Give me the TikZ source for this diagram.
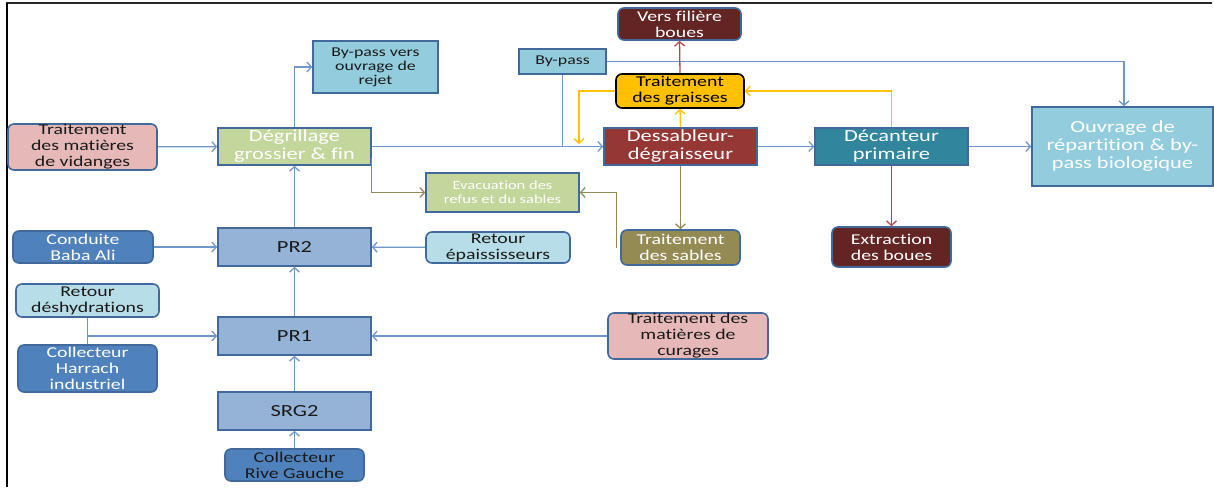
\documentclass[tikz,border=0pt]{standalone}
\usepackage{fontspec}
\setmainfont{Carlito}[FakeStretch=1.32, Ligatures={NoCommon}]
\usetikzlibrary{arrows.meta,calc}

\definecolor{cPink}{HTML}{E6B9B8}
\definecolor{cGreen}{HTML}{C3D69B}
\definecolor{cSky}{HTML}{93CDDD}
\definecolor{cWine}{HTML}{632523}
\definecolor{cGold}{HTML}{FFC000}
\definecolor{cRed}{HTML}{953735}
\definecolor{cTeal}{HTML}{31859C}
\definecolor{cOlive}{HTML}{948A54}
\definecolor{cBlue}{HTML}{4F81BD}
\definecolor{cPR}{HTML}{95B3D7}
\definecolor{cCyan}{HTML}{B7DEE8}
\definecolor{cEdge}{HTML}{41699C}
\definecolor{cLine}{HTML}{6E96C9}
\definecolor{cBrick}{HTML}{B04A48}
\definecolor{cInk}{HTML}{1A1A1A}

\tikzset{
  box/.style={draw=cEdge, line width=1.6pt, align=center, inner sep=0pt,
              font=\fontsize{15}{16}\selectfont, text=cInk},
  soft/.style={box, rounded corners=6pt},
  big/.style={font=\fontsize{17}{18}\selectfont},
  small/.style={font=\fontsize{13.5}{14}\selectfont},
  tiny/.style={font=\fontsize{12.5}{14}\selectfont},
  sz/.style 2 args={minimum width=#1pt, minimum height=#2pt},
  flow/.style={draw=cLine, line width=1.3pt, -{Straight Barb[length=4.5pt,width=10pt,line width=1.3pt]}},
  plain/.style={draw=cLine, line width=1.3pt},
  olive/.style={flow, draw=cOlive},
  gold/.style={flow, draw=cGold},
  brick/.style={flow, draw=cBrick},
}

\begin{document}
\begin{tikzpicture}[x=1pt, y=-1pt]
\useasboundingbox (0,0) rectangle (1214,487);

% frame
\draw[line width=2.5pt, black!85] (6,3) -- (1212,3);
\draw[line width=2pt, black] (7,3) -- (7,487);

% process boxes
\node[soft, fill=cPink, sz={149}{46}] (vid) at (82.5,147) {Traitement\\des matières\\de vidanges};
\node[box, big, fill=cGreen, text=white, sz={153}{37}] (degr) at (294.5,146.5) {Dégrillage\\grossier \& fin};
\node[box, small, fill=cSky, sz={125}{52}] (bpr) at (375.5,67) {By-pass vers\\ouvrage de\\rejet};
\node[box, small, fill=cSky, sz={87}{25}] (bp) at (562.5,61.5) {By-pass};
\node[soft, fill=cWine, text=white, sz={123}{32}] (vfb) at (679.5,24) {Vers filière\\boues};
\node[soft, draw=black, fill=cGold, text=black, sz={128}{34}] (grs) at (680,91) {Traitement\\des graisses};
\node[box, big, fill=cRed, text=white, sz={153}{37}] (dess) at (680.5,146.5) {Dessableur-\\dégraisseur};
\node[box, big, fill=cTeal, text=white, sz={153}{37}] (dec) at (891.5,146.5) {Décanteur\\primaire};
\node[box, big, fill=cSky, text=white, sz={181}{79}] (ouv) at (1122.5,146.5) {Ouvrage de\\répartition \& by-\\pass biologique};
\node[box, tiny, fill=cGreen, text=white, sz={153}{39}] (evac) at (502.5,192.5) {Evacuation des\\refus et du sables};
\node[soft, fill=cOlive, text=white, sz={119}{35}] (sab) at (680.5,247.5) {Traitement\\des sables};
\node[soft, fill=cWine, text=white, sz={119}{40}] (ext) at (891.5,247) {Extraction\\des boues};
\node[soft, fill=cBlue, text=white, sz={140}{32}] (cba) at (83,247) {Conduite\\Baba Ali};
\node[box, big, fill=cPR, sz={153}{38}] (pr2) at (294.5,247) {PR2};
\node[soft, fill=cCyan, sz={144}{31}] (rep) at (498,247.5) {Retour\\épaississeurs};
\node[soft, fill=cCyan, sz={143}{33}] (rdes) at (87.5,300.5) {Retour\\déshydrations};
\node[soft, fill=cBlue, text=white, sz={139}{47}] (chi) at (87.5,368.5) {Collecteur\\Harrach\\industriel};
\node[box, big, fill=cPR, sz={153}{38}] (pr1) at (294.5,336) {PR1};
\node[soft, fill=cPink, sz={160}{46}] (cur) at (688,336) {Traitement des\\matières de\\curages};
\node[box, big, fill=cPR, sz={153}{38}] (srg) at (294.5,411) {SRG2};
\node[soft, fill=cBlue, sz={139}{32}] (crg) at (294.5,465) {Collecteur\\Rive Gauche};

% free end of the grease return
\coordinate (gdrop) at (579,144);

% main water line
\draw[flow] (vid) -- (degr);
\draw[flow] (degr.north) |- (bpr.west);
\draw[flow] (degr.east) -- (dess.west);
\draw[plain] (bp.south) -- (bp.south |- dess.west);
\draw[flow] (bp.east) -| ($(ouv.north)+(1.5,0)$);
\draw[flow] (dess) -- (dec);
\draw[flow] (dec) -- (ouv);

% by-products
\draw[olive] ($(degr.south east)+(0,-8)$) |- (evac.west);
\draw[olive] ($(sab.west)+(-4,0)$) |- (evac.east);
\draw[olive] (dess.south) -- (sab.north);
\draw[gold] (dess.north) -- (grs.south);
\draw[gold] (grs.west) -| (gdrop);
\draw[gold] (dec.north) |- (grs.east);
\draw[brick] (grs.north) -- (vfb.south);
\draw[brick] (dec.south) -- (ext.north);

% pumping stations
\draw[flow] (cba) -- (pr2);
\draw[flow] (rep) -- (pr2);
\draw[flow] (pr2) -- (degr);
\draw[flow] (pr1) -- (pr2);
\draw[plain] (rdes.south) -- (chi.north);
\draw[flow] (rdes.south |- pr1.west) -- (pr1.west);
\draw[flow] (cur) -- (pr1);
\draw[flow] (srg) -- (pr1);
\draw[flow] (crg) -- (srg);
\end{tikzpicture}
\end{document}
